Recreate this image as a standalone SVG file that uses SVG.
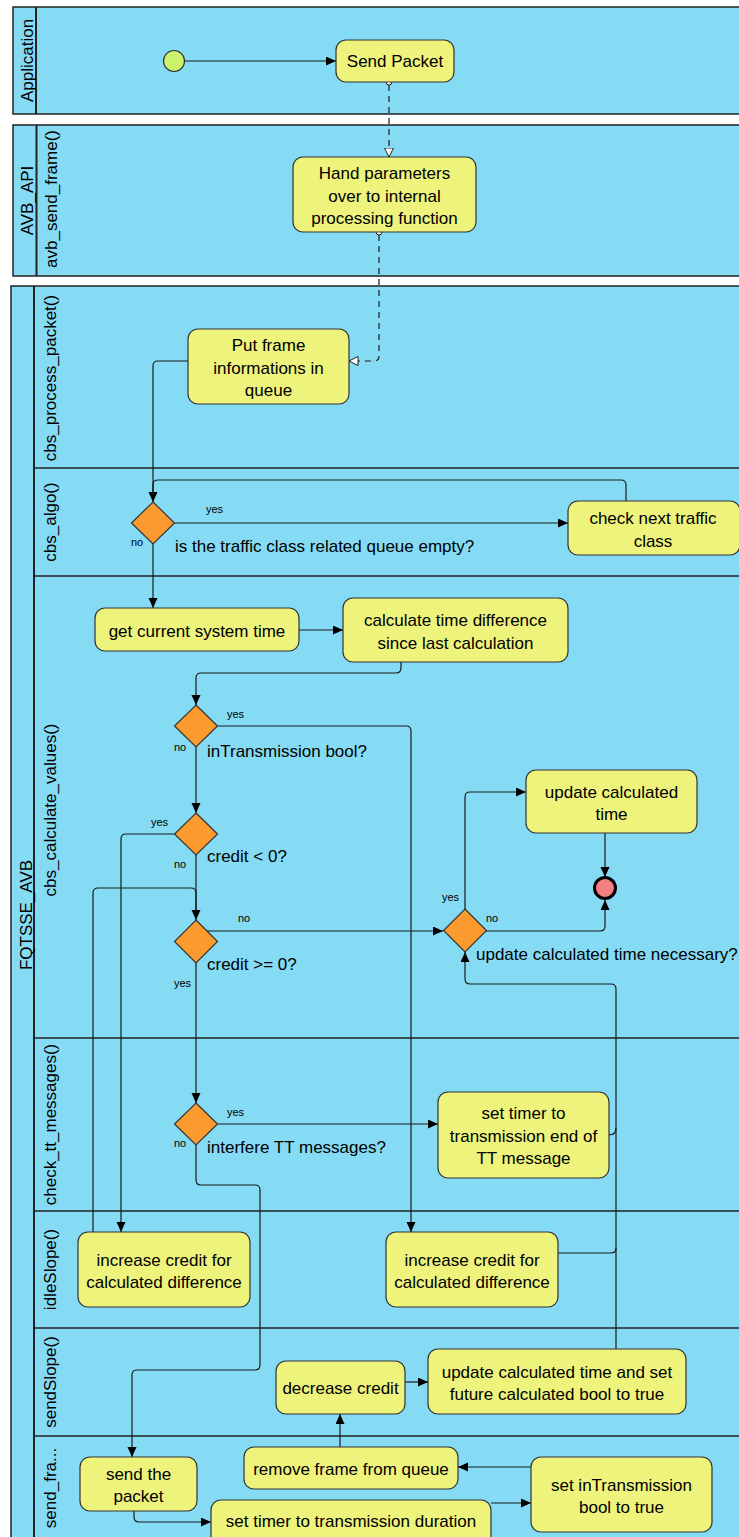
<svg xmlns="http://www.w3.org/2000/svg" width="739" height="1537" viewBox="0 0 739 1537">
  <style>
    .pool { fill: #85dbf4; stroke: #222; stroke-width: 1.5; }
    .div { stroke: #222; stroke-width: 1.5; fill: none; }
    .hdr { stroke: #222; stroke-width: 2; fill: none; }
    .lbl { font-family: "Liberation Sans", Arial, sans-serif; font-size: 17px; fill: #000; text-anchor: middle; }
    .act rect { fill: #eef37c; stroke: #333; stroke-width: 1.2; }
    .act text { font-family: "Liberation Sans", Arial, sans-serif; font-size: 17px; fill: #000; text-anchor: middle; }
    .dec polygon { fill: #fb9a2f; stroke: #333; stroke-width: 1.2; }
    .q { font-family: "Liberation Sans", Arial, sans-serif; font-size: 17px; fill: #000; }
    .g { font-family: "Liberation Sans", Arial, sans-serif; font-size: 11px; fill: #000; }
    .c { fill: none; stroke: #1a1a1a; stroke-width: 1.2; }
    .ca { marker-end: url(#arr); }
    .dash { fill: none; stroke: #1a1a1a; stroke-width: 1.2; stroke-dasharray: 6 5; marker-end: url(#hollow); }
  </style>
  <defs>
    <marker id="arr" markerUnits="userSpaceOnUse" markerWidth="11" markerHeight="10" refX="10" refY="4.5" orient="auto">
      <path d="M0,0 L10,4.5 L0,9 z" fill="#000"/>
    </marker>
    <marker id="hollow" markerUnits="userSpaceOnUse" markerWidth="11" markerHeight="11" refX="9.5" refY="5" orient="auto">
      <path d="M0.5,0.5 L9.5,5 L0.5,9.5 z" fill="#fff" stroke="#222" stroke-width="1"/>
    </marker>
  </defs>

  <!-- pools and lanes -->
  <g id="pool-application">
    <rect class="pool" x="13" y="7" width="740" height="107"/>
    <line class="hdr" x1="36" y1="7" x2="36" y2="114"/>
    <text class="lbl" transform="translate(32.5,60.5) rotate(-90)">Application</text>
  </g>
  <g id="pool-avb-api">
    <rect class="pool" x="13" y="125" width="740" height="151"/>
    <line class="hdr" x1="36.5" y1="125" x2="36.5" y2="276"/>
    <text class="lbl" transform="translate(32.5,200.5) rotate(-90)">AVB_API</text>
    <text class="lbl" transform="translate(57,199) rotate(-90)">avb_send_frame()</text>
  </g>
  <g id="pool-fqtsse">
    <rect class="pool" x="11" y="286" width="742" height="1270"/>
    <line class="hdr" x1="34" y1="286" x2="34" y2="1556"/>
    <path class="div" d="M34,468 H753 M34,576 H753 M34,1038 H753 M34,1211 H753 M34,1328 H753 M34,1436 H753"/>
    <text class="lbl" transform="translate(31.5,915) rotate(-90)">FQTSSE_AVB</text>
    <text class="lbl" transform="translate(55.5,378) rotate(-90)">cbs_process_packet()</text>
    <text class="lbl" transform="translate(55.5,522) rotate(-90)">cbs_algo()</text>
    <text class="lbl" transform="translate(55.5,810) rotate(-90)">cbs_calculate_values()</text>
    <text class="lbl" transform="translate(55.5,1124.5) rotate(-90)">check_tt_messages()</text>
    <text class="lbl" transform="translate(55.5,1269.5) rotate(-90)">idleSlope()</text>
    <text class="lbl" transform="translate(55.5,1382) rotate(-90)">sendSlope()</text>
    <text class="lbl" transform="translate(55.5,1488) rotate(-90)">send_fra...</text>
  </g>

  <!-- connectors -->
  <g id="connectors">
    <path class="c ca" d="M185,61 H336"/>
    <path class="dash" d="M389,85 V157"/>
    <circle cx="389" cy="82" r="3" fill="#fff" stroke="#222" stroke-width="1"/>
    <path class="dash" d="M379,235 V356 Q379,361 374,361 H349"/>
    <circle cx="379" cy="232" r="3" fill="#fff" stroke="#222" stroke-width="1"/>
    <path class="c ca" d="M188,361 H158 Q153,361 153,366 V502"/>
    <path class="c ca" d="M175,523 H568"/>
    <path class="c" d="M626,501 V485 Q626,480 621,480 H158 Q153,480 153,485 V495"/>
    <path class="c ca" d="M153,544 V608"/>
    <path class="c ca" d="M299,630 H343"/>
    <path class="c ca" d="M401,662 V668 Q401,673 396,673 H201 Q196,673 196,678 V705"/>
    <path class="c ca" d="M218,726 H406 Q411,726 411,731 V1232"/>
    <path class="c ca" d="M196,747 V813"/>
    <path class="c ca" d="M175,834 H126 Q121,834 121,839 V1232"/>
    <path class="c ca" d="M196,855 V920"/>
    <path class="c" d="M93,1232 V893 Q93,888 98,888 H191 Q196,888 196,893 V912"/>
    <path class="c ca" d="M207,931 H443"/>
    <path class="c ca" d="M465,909 V797 Q465,792 470,792 H526"/>
    <path class="c ca" d="M486,931 H600 Q605,931 605,926 V900"/>
    <path class="c ca" d="M605,833 V877"/>
    <path class="c ca" d="M616,1349 V989 Q616,984 611,984 H470 Q465,984 465,979 V952"/>
    <path class="c" d="M609,1135 Q616,1135 616,1128"/>
    <path class="c" d="M558,1253 H611 Q616,1253 616,1248"/>
    <path class="c ca" d="M196,963 V1103"/>
    <path class="c ca" d="M218,1124 H438"/>
    <path class="c ca" d="M196,1145 V1180 Q196,1185 201,1185 H255 Q260,1185 260,1190 V1365 Q260,1370 255,1370 H137 Q132,1370 132,1375 V1457"/>
    <path class="c ca" d="M134,1511 V1517 Q134,1522 139,1522 H211"/>
    <path class="c ca" d="M491,1503 H531"/>
    <path class="c ca" d="M531,1467 H458"/>
    <path class="c ca" d="M340,1447 V1414"/>
    <path class="c ca" d="M405,1382 H428"/>

    <!-- guard labels -->
    <text class="g" x="206" y="513">yes</text>
    <text class="g" x="131" y="546">no</text>
    <text class="g" x="227" y="718">yes</text>
    <text class="g" x="174" y="751">no</text>
    <text class="g" x="151" y="826">yes</text>
    <text class="g" x="174" y="868">no</text>
    <text class="g" x="238" y="922">no</text>
    <text class="g" x="442" y="901">yes</text>
    <text class="g" x="486" y="922">no</text>
    <text class="g" x="174" y="987">yes</text>
    <text class="g" x="227" y="1116">yes</text>
    <text class="g" x="174" y="1147">no</text>
  </g>

  <!-- start / end -->
  <g id="start">
    <circle cx="174" cy="61" r="10.5" fill="#ccf26c" stroke="#333" stroke-width="1.2"/>
  </g>
  <g id="end">
    <circle cx="605" cy="888" r="10.5" fill="#f47f7f" stroke="#000" stroke-width="3"/>
  </g>

  <!-- actions -->
  <g id="send-packet" class="act">
    <rect x="336" y="40" width="118" height="42" rx="10"/>
    <text x="395" y="67">Send Packet</text>
  </g>
  <g id="hand-parameters" class="act">
    <rect x="293" y="157" width="183" height="75" rx="10"/>
    <text x="384.5" y="179">Hand parameters</text>
    <text x="384.5" y="201.5">over to internal</text>
    <text x="384.5" y="224">processing function</text>
  </g>
  <g id="put-frame" class="act">
    <rect x="188" y="329" width="161" height="75" rx="10"/>
    <text x="268.5" y="351">Put frame</text>
    <text x="268.5" y="373.5">informations in</text>
    <text x="268.5" y="396">queue</text>
  </g>
  <g id="check-next" class="act">
    <rect x="568" y="501" width="172" height="54" rx="10"/>
    <text x="653" y="524">check next traffic</text>
    <text x="653" y="546.5">class</text>
  </g>
  <g id="get-time" class="act">
    <rect x="95" y="608" width="204" height="43" rx="10"/>
    <text x="197" y="636.5">get current system time</text>
  </g>
  <g id="calc-diff" class="act">
    <rect x="343" y="598" width="225" height="64" rx="10"/>
    <text x="455.5" y="626">calculate time difference</text>
    <text x="455.5" y="648.5">since last calculation</text>
  </g>
  <g id="update-time" class="act">
    <rect x="526" y="770" width="171" height="63" rx="10"/>
    <text x="611.5" y="797.5">update calculated</text>
    <text x="611.5" y="820">time</text>
  </g>
  <g id="set-timer-tt" class="act">
    <rect x="438" y="1092" width="171" height="86" rx="10"/>
    <text x="523.5" y="1119">set timer to</text>
    <text x="523.5" y="1141.5">transmission end of</text>
    <text x="523.5" y="1164">TT message</text>
  </g>
  <g id="increase-credit-a" class="act">
    <rect x="78" y="1232" width="172" height="75" rx="10"/>
    <text x="164" y="1265.5">increase credit for</text>
    <text x="164" y="1288">calculated difference</text>
  </g>
  <g id="increase-credit-b" class="act">
    <rect x="386" y="1232" width="172" height="75" rx="10"/>
    <text x="472" y="1265.5">increase credit for</text>
    <text x="472" y="1288">calculated difference</text>
  </g>
  <g id="decrease-credit" class="act">
    <rect x="276" y="1361" width="129" height="53" rx="10"/>
    <text x="340.5" y="1394">decrease credit</text>
  </g>
  <g id="update-and-set" class="act">
    <rect x="428" y="1349" width="258" height="65" rx="10"/>
    <text x="557" y="1377.5">update calculated time and set</text>
    <text x="557" y="1400">future calculated bool to true</text>
  </g>
  <g id="send-the-packet" class="act">
    <rect x="80" y="1457" width="117" height="54" rx="10"/>
    <text x="138.5" y="1479.5">send the</text>
    <text x="138.5" y="1502">packet</text>
  </g>
  <g id="remove-frame" class="act">
    <rect x="244" y="1447" width="214" height="42" rx="10"/>
    <text x="351" y="1475">remove frame from queue</text>
  </g>
  <g id="set-in-transmission" class="act">
    <rect x="531" y="1457" width="181" height="75" rx="10"/>
    <text x="621.5" y="1490.5">set inTransmission</text>
    <text x="621.5" y="1513">bool to true</text>
  </g>
  <g id="set-timer-duration" class="act">
    <rect x="211" y="1500" width="280" height="48" rx="10"/>
    <text x="351" y="1527">set timer to transmission duration</text>
  </g>

  <!-- decisions -->
  <g id="queue-empty" class="dec">
    <polygon points="153,502 174.5,523 153,544 131.5,523"/>
    <text class="q" x="175" y="552">is the traffic class related queue empty?</text>
  </g>
  <g id="in-transmission" class="dec">
    <polygon points="196,705 217.5,726 196,747 174.5,726"/>
    <text class="q" x="207" y="757">inTransmission bool?</text>
  </g>
  <g id="credit-negative" class="dec">
    <polygon points="196,813 217.5,834 196,855 174.5,834"/>
    <text class="q" x="207" y="862">credit &lt; 0?</text>
  </g>
  <g id="credit-positive" class="dec">
    <polygon points="196,920 217.5,941.5 196,963 174.5,941.5"/>
    <text class="q" x="207" y="970">credit &gt;= 0?</text>
  </g>
  <g id="update-necessary" class="dec">
    <polygon points="465,909 486.5,930.5 465,952 443.5,930.5"/>
    <text class="q" x="476" y="960">update calculated time necessary?</text>
  </g>
  <g id="interfere-tt" class="dec">
    <polygon points="196,1103 217.5,1124 196,1145 174.5,1124"/>
    <text class="q" x="207" y="1153">interfere TT messages?</text>
  </g>
</svg>
